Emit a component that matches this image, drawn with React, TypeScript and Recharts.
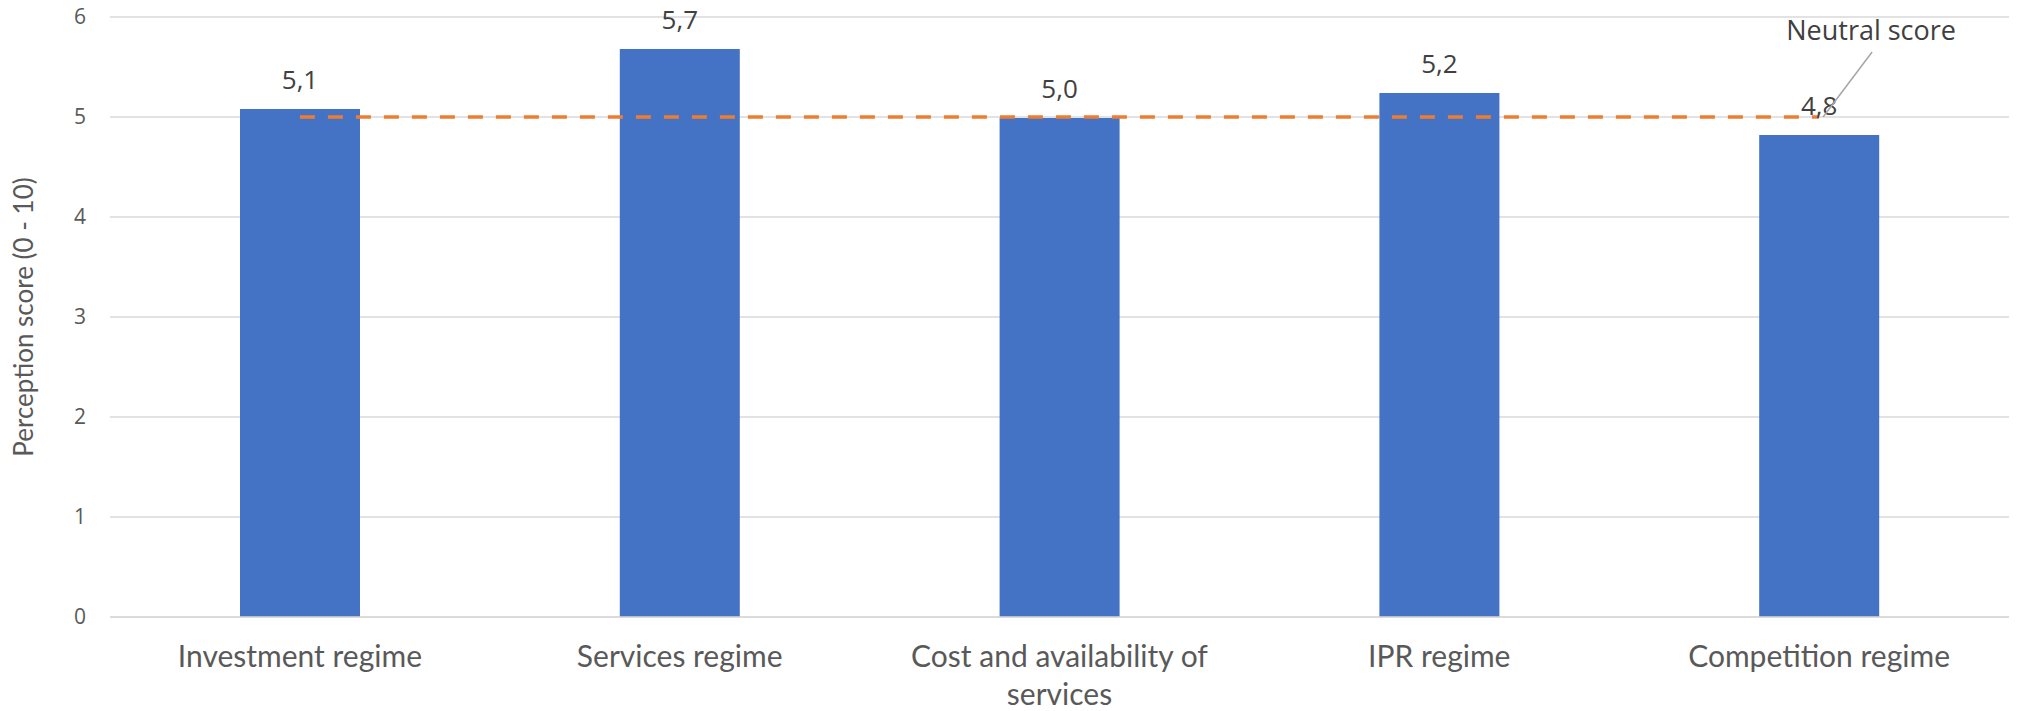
import React from 'react';
import {
  ComposedChart,
  Bar,
  Line,
  XAxis,
  YAxis,
  CartesianGrid,
  LabelList,
  Label,
} from 'recharts';

const categories = [
  'Investment regime',
  'Services regime',
  'Cost and availability of services',
  'IPR regime',
  'Competition regime',
];
const scores = [5.08, 5.68, 4.99, 5.24, 4.82];
const neutralScore = [5, 5, 5, 5, 5];
const yTicks = [0, 1, 2, 3, 4, 5, 6];

const data = categories.map((name, i) => ({
  name,
  score: scores[i],
  neutral: neutralScore[i],
}));

const LABEL_FONT = "'Open Sans', sans-serif";
const AXIS_FONT = "Lato, 'Open Sans', sans-serif";
const MAX_CHARS = 24;

const fmt = (v: number) => v.toFixed(1).replace('.', ',');

// greedy word wrap by character count
function wrap(label: string) {
  const lines: string[] = [];
  let cur = '';
  label.split(' ').forEach((w) => {
    const next = cur ? cur + ' ' + w : w;
    if (next.length > MAX_CHARS && cur) {
      lines.push(cur);
      cur = w;
    } else {
      cur = next;
    }
  });
  if (cur) lines.push(cur);
  return lines;
}

function CategoryTick(props: any) {
  const { x, y, payload } = props;
  const lines = wrap(String(payload.value));
  return (
    <text
      x={x}
      y={y + 42}
      textAnchor="middle"
      fontSize={30}
      fontFamily={AXIS_FONT}
      fill="#595959"
    >
      {lines.map((l, i) => (
        <tspan key={i} x={x} dy={i === 0 ? 0 : 38}>
          {l}
        </tspan>
      ))}
    </text>
  );
}

function NeutralLabel(props: any) {
  const { x, y, index } = props;
  if (index !== data.length - 1) return null;
  return (
    <g>
      <line x1={x + 4} y1={y} x2={x + 53} y2={y - 65} stroke="#a6a6a6" strokeWidth={1.5} />
      <text
        x={x + 52}
        y={y - 88}
        textAnchor="middle"
        dominantBaseline="central"
        fontSize={27}
        fontFamily={LABEL_FONT}
        fill="#404040"
      >
        Neutral score
      </text>
    </g>
  );
}

function YTitle(props: any) {
  const { viewBox } = props;
  const cx = 23;
  const cy = viewBox.y + viewBox.height / 2;
  return (
    <text
      x={cx}
      y={cy}
      transform={`rotate(-90, ${cx}, ${cy})`}
      textAnchor="middle"
      dominantBaseline="central"
      fontSize={26}
      fontFamily={AXIS_FONT}
      fill="#595959"
    >
      Perception score (0 - 10)
    </text>
  );
}

export default function App() {
  return (
    <div style={{ position: 'absolute', left: 0, top: 0, background: '#fff' }}>
      <ComposedChart
        width={2019}
        height={711}
        data={data}
        margin={{ top: 17, right: 10, left: 0, bottom: 64 }}
      >
        <CartesianGrid vertical={false} stroke="#d9d9d9" strokeWidth={1.5} />
        <XAxis
          dataKey="name"
          height={30}
          tick={<CategoryTick />}
          tickLine={false}
          axisLine={{ stroke: '#d9d9d9', strokeWidth: 1.5 }}
          interval={0}
        />
        <YAxis
          width={110}
          domain={[0, 6]}
          ticks={yTicks}
          tickLine={false}
          axisLine={false}
          tickMargin={18}
          tick={{ fontSize: 21, fill: '#595959', fontFamily: LABEL_FONT }}
        >
          <Label content={<YTitle />} />
        </YAxis>
        <Bar dataKey="score" fill="#4472c4" barSize={120} isAnimationActive={false}>
          <LabelList
            dataKey="score"
            position="top"
            offset={20}
            formatter={(v: any) => fmt(Number(v))}
            fill="#404040"
            fontSize={26}
            fontFamily={LABEL_FONT}
          />
        </Bar>
        <Line
          dataKey="neutral"
          stroke="#ed7d31"
          strokeWidth={3.5}
          strokeDasharray="15 13"
          dot={false}
          activeDot={false}
          isAnimationActive={false}
        >
          <LabelList dataKey="neutral" content={<NeutralLabel />} />
        </Line>
      </ComposedChart>
    </div>
  );
}
